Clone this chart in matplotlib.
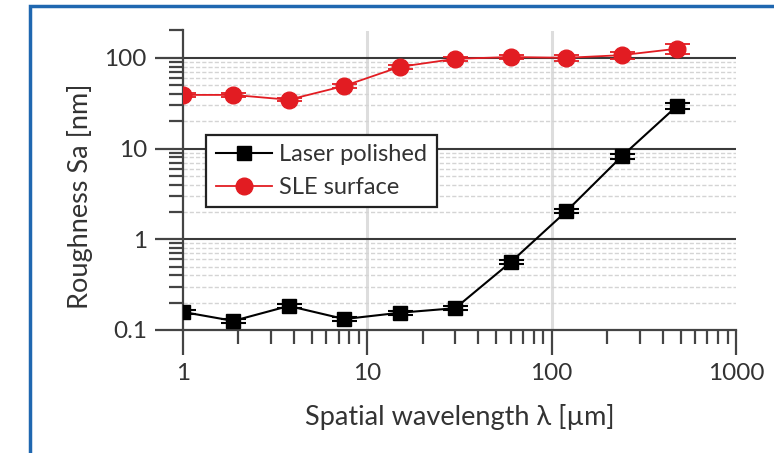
import matplotlib
matplotlib.use("Agg")
import matplotlib.pyplot as plt
from matplotlib.patches import Rectangle
from matplotlib.ticker import LogLocator, FixedLocator, NullFormatter

plt.rcParams['font.family'] = ['Lato', 'DejaVu Sans']

# spatial wavelength [um]
wavelength = [1, 1.875, 3.75, 7.5, 15, 30, 60, 120, 240, 480]
# roughness Sa [nm]
laser = [0.158, 0.126, 0.184, 0.132, 0.155, 0.174, 0.56, 2.03, 8.2, 29.6]
laser_err = [0.008, 0.006, 0.008, 0.006, 0.007, 0.008, 0.03, 0.1, 0.5, 2.2]
sle = [39, 39, 34.5, 49, 79.5, 97.5, 102, 100, 107, 126]
sle_err = [2, 2, 1.5, 2.5, 4, 5, 5, 7, 10, 16]

xticks = [1, 10, 100, 1000]
xticklabels = ['1', '10', '100', '1000']
yticks = [0.1, 1, 10, 100]
yticklabels = ['0.1', '1', '10', '100']

red = '#e21c22'
axcol = '#444444'

fig = plt.figure(figsize=(7.74, 4.53), dpi=100)
ax = fig.add_axes([183 / 774, 1 - 330 / 453, 553 / 774, 299.5 / 453])

ax.set_xscale('log')
ax.set_yscale('log')
ax.set_xlim(1, 1000)
ax.set_ylim(0.1, 200)

# grid: light vertical at decades, solid dark horizontal at decades, dashed minor
for xv in [10, 100]:
    ax.axvline(xv, color='#dddddd', lw=2.2, zorder=0)
minor_y = [k * 10.0 ** e for e in (-1, 0, 1) for k in range(2, 10)]
ax.hlines(minor_y, 1, 1000, colors='#d4d4d4', linestyles=(0, (3, 1.5)), lw=1.0, zorder=0)
for yv in [1, 10, 100]:
    ax.axhline(yv, color='#3a3a3a', lw=1.5, zorder=1)

eb1 = ax.errorbar(wavelength, laser, yerr=laser_err, color='black', lw=1.5,
                  marker='s', ms=10, capsize=9, capthick=1.5, elinewidth=1.5,
                  zorder=3)
eb2 = ax.errorbar(wavelength, sle, yerr=sle_err, color=red, lw=1.3,
                  marker='o', ms=12, capsize=9, capthick=1.3, elinewidth=1.3,
                  zorder=4)

for s in ['top', 'right']:
    ax.spines[s].set_visible(False)
for s in ['left', 'bottom']:
    ax.spines[s].set_color(axcol)
    ax.spines[s].set_linewidth(1.6)

ax.xaxis.set_major_locator(FixedLocator(xticks))
ax.set_xticklabels(xticklabels)
ax.xaxis.set_minor_locator(LogLocator(base=10, subs=range(2, 10)))
ax.xaxis.set_minor_formatter(NullFormatter())
ax.yaxis.set_major_locator(FixedLocator(yticks))
ax.set_yticklabels(yticklabels)
ax.yaxis.set_minor_locator(LogLocator(base=10, subs=range(2, 10)))
ax.yaxis.set_minor_formatter(NullFormatter())

ax.tick_params(which='major', direction='out', length=19, width=1.6,
               color=axcol, labelsize=17.5, labelcolor='#333333')
ax.tick_params(axis='y', which='major', length=20, pad=6)
ax.tick_params(axis='x', which='major', length=18, pad=6)
ax.tick_params(which='minor', direction='out', length=10, width=1.6, color=axcol)

ax.set_xlabel('Spatial wavelength λ [µm]', fontsize=19.5, color='#333333', labelpad=14)
ax.set_ylabel('Roughness Sa [nm]', fontsize=19.5, color='#333333')
ax.yaxis.set_label_coords(-0.162, 0.445)

leg = ax.legend([eb1.lines[0], eb2.lines[0]], ['Laser polished', 'SLE surface'],
                loc='upper left', bbox_to_anchor=(0.042, 0.652), fontsize=17,
                frameon=True, fancybox=False, framealpha=1, edgecolor='#222222',
                handlelength=2.4, borderpad=0.4, labelspacing=0.5,
                handletextpad=0.3, borderaxespad=0)
leg.get_frame().set_linewidth(1.6)
for t in leg.get_texts():
    t.set_color('#333333')

# blue frame around the figure panel
fig.patches.append(Rectangle((29.5 / 774, -0.1), 1.2, 1.1 - 6.5 / 453,
                             transform=fig.transFigure, fill=False,
                             edgecolor='#1f67b0', lw=2.5, zorder=10))

fig.savefig('out.png', dpi=100)
